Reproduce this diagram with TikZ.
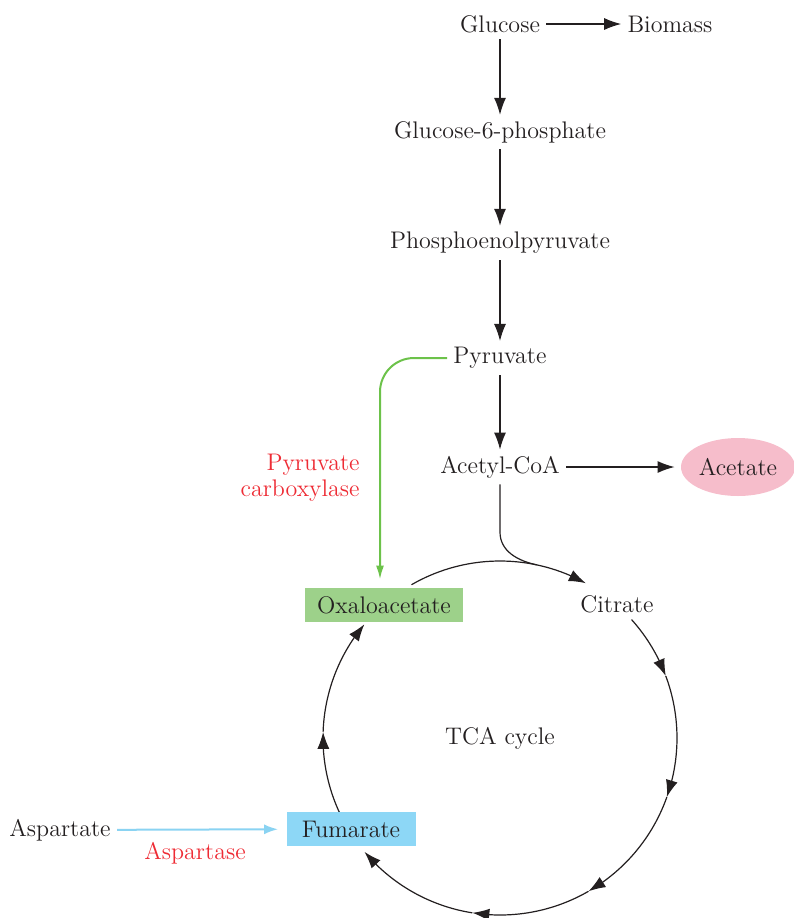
\documentclass[tikz,border=0pt]{standalone}
\usepackage{xcolor}
\usetikzlibrary{positioning,arrows.meta,bending,calc,shapes.geometric}
\definecolor{inkgrey}{HTML}{231F20}
\definecolor{enzred}{HTML}{EE2B34}
\definecolor{pcgreen}{HTML}{6CC24A}
\definecolor{oaabg}{HTML}{9DD18A}
\definecolor{aspblue}{HTML}{8AD3F2}
\definecolor{fumbg}{HTML}{8DD7F6}
\definecolor{acepink}{HTML}{F6BDCB}
\tikzset{
  met/.style   ={font=\fontsize{12}{13}\selectfont, text=inkgrey, inner sep=3pt},
  enz/.style   ={met, text=enzred, align=right},
  oaabox/.style={met, fill=oaabg, minimum width=79pt, minimum height=17pt},
  fumbox/.style={met, fill=fumbg, minimum width=64.5pt, minimum height=17pt},
  acebox/.style={met, ellipse, inner sep=0pt, fill=acepink,
                 minimum width=57pt, minimum height=29pt},
  flow/.style  ={-{Latex[length=8.5pt,width=6pt]}, draw=inkgrey, line width=0.6pt},
  pcflow/.style={-{Latex[length=7pt,width=4pt]}, draw=pcgreen, line width=1pt,
                 rounded corners=17pt},
  aspflow/.style={-{Latex[length=7pt,width=5pt]}, draw=aspblue, line width=1pt},
  cycline/.style={draw=inkgrey, line width=0.6pt},
}

\begin{document}
\begin{tikzpicture}[x=0.5pt, y=0.5pt]
\useasboundingbox (0,0) rectangle (794,-918);

% ------------------------------------------------------------- glycolysis
\node[met] (glc)  at (500,-24)  {Glucose};
\node[met] (bio)  at (670,-24)  {Biomass};
\node[met] (g6p)  at (500,-132) {Glucose-6-phosphate};
\node[met] (pep)  at (500,-243) {Phosphoenolpyruvate};
\node[met] (pyr)  at (500,-358) {Pyruvate};
\node[met] (acoa) at (500,-467) {Acetyl-CoA};
\node[acebox] (ace) at (738,-467) {Acetate};

\draw[flow] (glc) -- (bio);
\foreach \a/\b in {glc/g6p, g6p/pep, pep/pyr, pyr/acoa}
  \draw[flow] (\a) -- (\b);
\draw[flow, shorten >=3pt] (acoa) -- (ace);

% ------------------------------------------------------------- TCA cycle
\coordinate (cyc) at (500,-738);
\node[met] (tca) at (cyc) {TCA cycle};
\node[met] (cit) at (617,-604) {Citrate};

% arcs, clockwise, one arrow tip per step
\draw[flow] (cyc) ++(120:177) arc[start angle=120, end angle=61, radius=177];
\foreach \s/\e in {42/20.5, 20.5/-19.5, -19.5/-60, -60/-99, -99/-140, 205/178, 178/140}
  \draw[flow] (cyc) ++(\s:177) arc[start angle=\s, end angle=\e, radius=177];

% acetyl-CoA joins the cycle
\path (cyc) ++(78:177) coordinate (join);
\coordinate (acbend) at (500,-532);
\draw[cycline] (acoa.south) -- (acbend) to[out=-90, in=168] (join);

\node[oaabox] (oaa) at (384,-605) {Oxaloacetate};
\node[fumbox] (fum) at (351,-829) {Fumarate};

% ------------------------------------------------------------- anaplerosis
\draw[pcflow, shorten >=4pt] (pyr.west) -| ([xshift=-2pt]oaa.north);
\node[enz, anchor=east] (pc) at (366,-478) {Pyruvate\\carboxylase};

\node[met] (asp) at (60,-830) {Aspartate};
\draw[aspflow, shorten >=4pt] (asp) -- (fum);
\node[enz] (aspase) at (195,-853) {Aspartase};

\end{tikzpicture}
\end{document}
